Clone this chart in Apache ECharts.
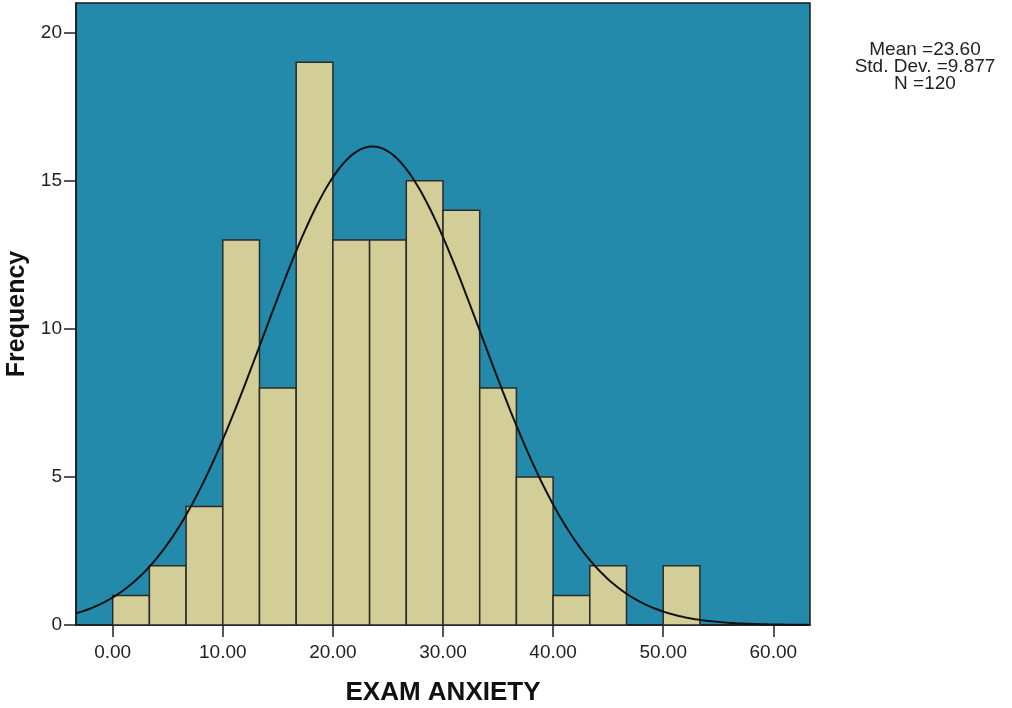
<!DOCTYPE html>
<html>
<head>
<meta charset="utf-8">
<script src="https://cdn.jsdelivr.net/npm/echarts@6/dist/echarts.min.js"></script>
<style>
html,body{margin:0;padding:0;background:#fff;}
#chart{width:1012px;height:708px;}
</style>
</head>
<body>
<div id="chart"></div>
<script>
// Histogram bins (EXAM ANXIETY), bin width 10/3
const binStarts = [0, 3.333, 6.667, 10, 13.333, 16.667, 20, 23.333, 26.667, 30, 33.333, 36.667, 40, 43.333, 46.667, 50];
const binWidth = 3.333;
const frequencies = [1, 2, 4, 13, 8, 19, 13, 13, 15, 14, 8, 5, 1, 2, 0, 2];
const xTicks = [0, 10, 20, 30, 40, 50, 60];
const yTicks = [0, 5, 10, 15, 20];
// Statistics shown in the legend
const statMean = 23.60;
const statSD = 9.877;
const statN = 120;
const statLines = ['Mean =23.60', 'Std. Dev. =9.877', 'N =120'];

const xMin = -3.333, xMax = 63.333;

const barData = binStarts.map((s, i) => [s, s + binWidth, frequencies[i]]);

// fitted normal curve from the displayed mean / SD / N
const curve = [];
for (let x = xMin; x <= xMax + 1e-9; x += 0.25) {
  const z = (x - statMean) / statSD;
  curve.push([x, statN * binWidth / (statSD * Math.sqrt(2 * Math.PI)) * Math.exp(-0.5 * z * z)]);
}

const chart = echarts.init(document.getElementById('chart'), null, {renderer: 'canvas'});
const font = '"Liberation Sans", Arial, sans-serif';
chart.setOption({
  animation: false,
  grid: {
    left: 76, right: 202, top: 3, bottom: 83, containLabel: false, outerBoundsMode: 'none',
    show: true, backgroundColor: '#248AAB', borderColor: '#1a1a1a', borderWidth: 1.5
  },
  xAxis: {
    type: 'value', min: xMin, max: xMax,
    name: 'EXAM ANXIETY', nameLocation: 'middle', nameGap: 55,
    nameTextStyle: {fontFamily: font, fontSize: 26, fontWeight: 'bold', color: '#111'},
    axisLine: {show: true, onZero: false, lineStyle: {color: '#1a1a1a', width: 1.5}},
    axisTick: {show: true, length: 12, customValues: xTicks, lineStyle: {color: '#222', width: 1.5}},
    axisLabel: {customValues: xTicks, margin: 18, fontFamily: font, fontSize: 19, color: '#222',
      formatter: v => v.toFixed(2)},
    splitLine: {show: false}
  },
  yAxis: {
    type: 'value', min: 0, max: 21,
    name: 'Frequency', nameLocation: 'middle', nameGap: 44, nameRotate: 90,
    nameTextStyle: {fontFamily: font, fontSize: 25, fontWeight: 'bold', color: '#111'},
    axisLine: {show: true, onZero: false, lineStyle: {color: '#1a1a1a', width: 1.5}},
    axisTick: {show: true, length: 12, customValues: yTicks, lineStyle: {color: '#222', width: 1.5}},
    axisLabel: {customValues: yTicks, margin: 14, fontFamily: font, fontSize: 19, color: '#222'},
    splitLine: {show: false}
  },
  series: [
    {
      type: 'custom',
      data: barData,
      encode: {x: [0, 1], y: 2},
      renderItem: function (params, api) {
        const p0 = api.coord([api.value(0), 0]);
        const p1 = api.coord([api.value(1), api.value(2)]);
        if (api.value(2) <= 0) return null;
        return {
          type: 'rect',
          shape: {x: p0[0], y: p1[1], width: p1[0] - p0[0], height: p0[1] - p1[1]},
          style: {fill: '#D3CE98', stroke: '#2a2a2a', lineWidth: 1.5}
        };
      },
      z: 2
    },
    {
      type: 'line',
      data: curve,
      showSymbol: false,
      smooth: false,
      lineStyle: {color: '#111', width: 2},
      clip: true,
      z: 3
    }
  ],
  graphic: [{
    type: 'text',
    x: 925, y: 41,
    style: {
      text: statLines.join('\n'),
      fontFamily: font, fontSize: 19, lineHeight: 17,
      fill: '#222', textAlign: 'center'
    }
  }]
});
</script>
</body>
</html>
